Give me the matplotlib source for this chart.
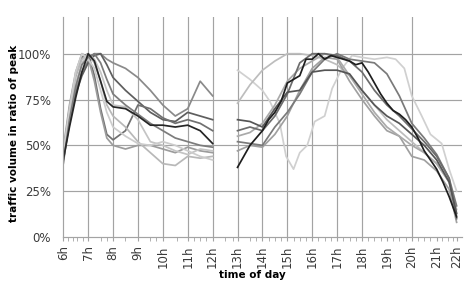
import matplotlib
matplotlib.use("Agg")
import matplotlib.pyplot as plt

# ---- data ----
t_am = [6.0, 6.25, 6.5, 6.75, 7.0, 7.25, 7.5, 7.75, 8.0, 8.5, 9.0, 9.5, 10.0, 10.5, 11.0, 11.5, 12.0]
am1 = [45, 66, 80, 90, 96, 100, 100, 97, 95, 92, 87, 80, 72, 66, 70, 85, 77]
am2 = [42, 62, 78, 88, 95, 99, 100, 94, 87, 80, 74, 68, 64, 63, 68, 66, 64]
am3 = [42, 60, 76, 90, 100, 96, 85, 74, 71, 70, 66, 61, 61, 60, 61, 58, 51]
am4 = [45, 70, 88, 98, 100, 88, 70, 56, 53, 58, 72, 70, 65, 62, 64, 62, 58]
am5 = [48, 72, 90, 100, 98, 85, 68, 54, 50, 48, 50, 50, 48, 46, 49, 47, 46]
am6 = [40, 68, 88, 97, 100, 95, 85, 72, 66, 60, 52, 46, 40, 39, 44, 43, 44]
am7 = [44, 66, 84, 95, 100, 97, 90, 80, 72, 71, 64, 52, 50, 47, 45, 48, 47]
am8 = [46, 70, 90, 100, 97, 92, 80, 68, 60, 55, 51, 50, 52, 50, 47, 44, 42]
am9 = [40, 64, 82, 94, 98, 100, 95, 86, 78, 72, 67, 62, 58, 54, 52, 50, 49]

t_pm_fine = [13.0, 13.25, 13.5, 13.75, 14.0, 14.25, 14.5, 14.75, 15.0, 15.25, 15.5, 15.75,
             16.0, 16.25, 16.5, 16.75, 17.0, 17.25, 17.5, 17.75, 18.0, 18.25, 18.5, 18.75,
             19.0, 19.25, 19.5, 19.75, 20.0, 20.25, 20.5, 20.75, 21.0, 21.25, 21.5, 21.8]
pm_black = [38, 44, 50, 54, 58, 64, 68, 74, 84, 86, 88, 97, 97, 100, 97, 99, 98, 97, 96, 94,
            95, 90, 84, 78, 73, 69, 67, 64, 60, 54, 47, 42, 37, 30, 22, 11]

t_dip = [13.0, 13.5, 14.0, 14.3, 14.7, 14.95, 15.25, 15.5, 15.8, 16.1, 16.5, 16.8, 17.2, 17.6,
         18.0, 18.5, 19.0, 19.35, 19.7, 20.0, 20.4, 20.75, 21.2, 21.5, 21.8]
pm_light_dip = [91, 86, 80, 74, 62, 44, 37, 46, 50, 63, 66, 81, 92, 99, 98, 97, 98, 97, 92,
                77, 66, 56, 51, 37, 25]

t_pm = [13.0, 13.5, 14.0, 14.5, 15.0, 15.5, 16.0, 16.5, 17.0, 17.5, 18.0, 18.5,
        19.0, 19.5, 20.0, 20.5, 21.0, 21.5, 21.8]
pm_light2 = [73, 83, 91, 96, 100, 100, 99, 97, 94, 88, 80, 72, 64, 58, 52, 46, 40, 30, 15]
pm_g1 = [64, 63, 60, 70, 79, 80, 90, 91, 91, 89, 80, 72, 66, 62, 56, 50, 42, 30, 13]
pm_g2 = [58, 60, 58, 66, 78, 95, 100, 100, 99, 96, 90, 80, 72, 66, 59, 52, 44, 32, 10]
pm_g3 = [52, 51, 50, 60, 68, 78, 90, 97, 100, 97, 96, 95, 89, 77, 62, 54, 45, 32, 17]
pm_g4 = [47, 50, 49, 56, 66, 80, 92, 98, 97, 85, 75, 66, 58, 55, 44, 42, 36, 26, 8]
pm_g5 = [55, 57, 62, 72, 85, 92, 96, 100, 98, 88, 78, 68, 60, 55, 50, 46, 40, 30, 12]

hour_positions = [6, 7, 8, 9, 10, 11, 12, 13, 14, 15, 16, 17, 18, 19, 20, 21, 21.8]
hour_labels = ["6h", "7h", "8h", "9h", "10h", "11h", "12h", "13h", "14h", "15h", "16h",
               "17h", "18h", "19h", "20h", "21h", "22h"]
grid_hours = [7, 8, 9, 10, 11, 12, 13, 14, 15, 16, 17, 18, 20]
minor_pos = [6.2, 6.4, 6.57, 6.78, 7.5, 7.75, 8.5, 9.5, 9.72, 10.55, 11.25, 11.5, 11.75,
             12.5, 12.8, 13.5, 13.75, 14.25, 14.5, 14.75, 15.25, 15.5, 15.75, 16.25, 16.5,
             16.75, 17.25, 17.5, 17.75, 18.25, 18.5, 18.75, 19.25, 19.5, 19.75, 20.25, 20.5,
             20.75, 21.2, 21.45, 21.65]

# ---- figure ----
fig = plt.figure(figsize=(4.72, 2.89), dpi=100)
ax = fig.add_axes([0.134, 0.18, 0.845, 0.761])

gc = "#a3a3a3"
for h in grid_hours:
    ax.axvline(h, color=gc, lw=0.85, zorder=0)
for v in [25, 50, 75, 100]:
    ax.axhline(v, color=gc, lw=0.85, zorder=0)

lw = 1.25
am_series = [(am1, "#8a8a8a"), (am2, "#5e5e5e"), (am4, "#707070"), (am5, "#9c9c9c"),
             (am6, "#b8b8b8"), (am7, "#c4c4c4"), (am8, "#cccccc"), (am9, "#7c7c7c"),
             (am3, "#262626")]
for vals, c in am_series:
    ax.plot(t_am, vals, color=c, lw=lw, zorder=2)

ax.plot(t_dip, pm_light_dip, color="#d0d0d0", lw=lw, zorder=2)
pm_series = [(pm_light2, "#bdbdbd"), (pm_g4, "#a0a0a0"),
             (pm_g5, "#aaaaaa"), (pm_g3, "#7a7a7a"), (pm_g2, "#6c6c6c"), (pm_g1, "#555555")]
for vals, c in pm_series:
    ax.plot(t_pm, vals, color=c, lw=lw, zorder=2)
ax.plot(t_pm_fine, pm_black, color="#1e1e1e", lw=lw, zorder=3)

ax.set_xlim(6, 22.02)
ax.set_ylim(0, 120)
ax.set_yticks([0, 25, 50, 75, 100])
ax.set_yticklabels(["0%", "25%", "50%", "75%", "100%"])
ax.set_xticks(hour_positions)
ax.set_xticklabels(hour_labels, rotation=90)
ax.set_xticks(minor_pos, minor=True)

for s in ["top", "right"]:
    ax.spines[s].set_visible(False)
for s in ["left", "bottom"]:
    ax.spines[s].set_color(gc)
    ax.spines[s].set_linewidth(0.85)

ax.tick_params(axis="x", which="both", length=3, color=gc, labelsize=8.5,
               labelcolor="#3a3a3a", pad=3)
ax.tick_params(axis="y", length=0, labelsize=8.5, labelcolor="#3a3a3a", pad=9)

ax.set_xlabel("time of day", fontsize=7.5, fontweight="bold")
ax.xaxis.set_label_coords(0.475, -0.15)
ax.set_ylabel("traffic volume in ratio of peak", fontsize=7.5, fontweight="bold")
ax.yaxis.set_label_coords(-0.112, 0.47)

fig.savefig("out.png", dpi=100)
